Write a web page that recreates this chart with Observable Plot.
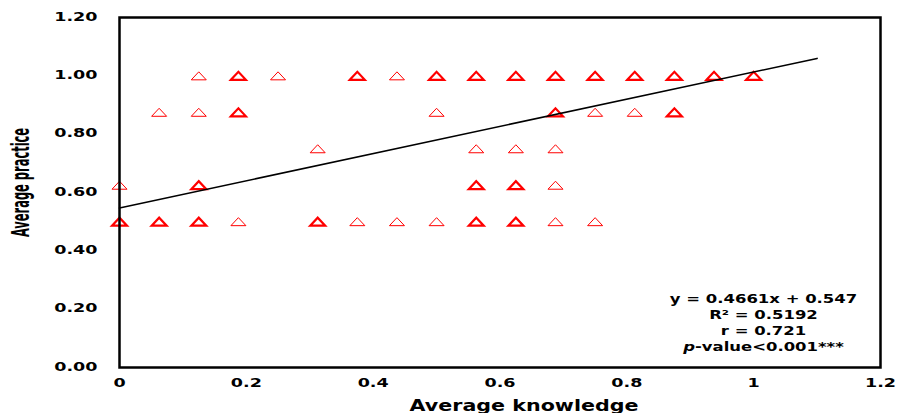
<!DOCTYPE html>
<html>
<head>
<meta charset="utf-8">
<script src="https://cdn.jsdelivr.net/npm/d3@7"></script>
<script src="https://cdn.jsdelivr.net/npm/@observablehq/plot@0.6"></script>
<style>
  html, body { margin: 0; padding: 0; background: #fff; }
</style>
</head>
<body>
<div id="chart"></div>
<script>
// ---- Data ----
const knowledge = [
  // practice = 1.0
  0.125, 0.1875, 0.25, 0.375, 0.4375, 0.5, 0.5625, 0.625, 0.6875, 0.75, 0.8125, 0.875, 0.9375, 1.0,
  // practice = 0.875
  0.0625, 0.125, 0.1875, 0.5, 0.6875, 0.75, 0.8125, 0.875,
  // practice = 0.75
  0.3125, 0.5625, 0.625, 0.6875,
  // practice = 0.625
  0, 0.125, 0.5625, 0.625, 0.6875,
  // practice = 0.5
  0, 0.0625, 0.125, 0.1875, 0.3125, 0.375, 0.4375, 0.5, 0.5625, 0.625, 0.6875, 0.75
];
const practice = [
  1, 1, 1, 1, 1, 1, 1, 1, 1, 1, 1, 1, 1, 1,
  0.875, 0.875, 0.875, 0.875, 0.875, 0.875, 0.875, 0.875,
  0.75, 0.75, 0.75, 0.75,
  0.625, 0.625, 0.625, 0.625, 0.625,
  0.5, 0.5, 0.5, 0.5, 0.5, 0.5, 0.5, 0.5, 0.5, 0.5, 0.5, 0.5
];
// estimated number of overlapping respondents at each point (1 = single, 2 = several)
const count = [
  1, 2, 1, 2, 1, 2, 2, 2, 2, 2, 2, 2, 2, 2,
  1, 1, 2, 1, 2, 1, 1, 2,
  1, 1, 1, 1,
  1, 2, 2, 2, 1,
  2, 2, 2, 1, 2, 1, 1, 1, 2, 2, 1, 1
];

const fitSlope = 0.4661;
const fitIntercept = 0.547;
const fitRange = [0, 1.1];

const xTicks = [0, 0.2, 0.4, 0.6, 0.8, 1, 1.2];
const yTicks = [0, 0.2, 0.4, 0.6, 0.8, 1.0, 1.2];
const xLabel = "Average knowledge";
const yLabel = "Average practice";
const statsLines = ["y = 0.4661x + 0.547", "R\u00B2 = 0.5192", "r = 0.721", "p-value<0.001***"];

// ---- Build tables ----
const points = knowledge.map((k, i) => ({knowledge: k, practice: practice[i], count: count[i]}));
const fitLine = fitRange.map(x => ({x, y: fitSlope * x + fitIntercept}));

// flattened open triangle
const flatTriangle = {
  draw(context) {
    context.moveTo(-7.5, 4);
    context.lineTo(0, -4);
    context.lineTo(7.5, 4);
    context.closePath();
  }
};

const chart = Plot.plot({
  width: 898,
  height: 413,
  marginLeft: 119,
  marginRight: 18,
  marginTop: 17,
  marginBottom: 46,
  x: {domain: [0, 1.2]},
  y: {domain: [0, 1.2]},
  style: {fontFamily: "DejaVu Sans", fontWeight: "bold", fontSize: "13px", color: "#000", background: "#fff"},
  marks: [
    Plot.axisY({ticks: yTicks, tickFormat: d => d.toFixed(2), tickSize: 0, tickPadding: 22, dy: 3, label: null}),
    Plot.axisX({ticks: xTicks, tickFormat: d => String(+d.toFixed(1)), tickSize: 0, tickPadding: 19, label: null}),
    Plot.dot(points, {
      x: "knowledge", y: "practice", symbol: flatTriangle,
      stroke: "#ff0000", fill: "none",
      strokeWidth: d => (d.count > 1 ? 2.2 : 1)
    }),
    Plot.line(fitLine, {x: "x", y: "y", stroke: "#000", strokeWidth: 1.6}),
    Plot.frame({stroke: "#000", strokeWidth: 2.5}),
    Plot.text([xLabel], {text: d => d, frameAnchor: "bottom", dx: 24, dy: 43, fontSize: 15.3, lineAnchor: "middle", textAnchor: "middle", fill: "#000"}),
    Plot.text([yLabel], {text: d => d, frameAnchor: "left", dx: -91, dy: -10, rotate: -90, fontSize: 13, textAnchor: "middle", lineAnchor: "middle", fill: "#000"}),
    Plot.text([statsLines.join("\n")], {
      text: d => d, frameAnchor: "bottom-right", dx: -117, dy: -17,
      lineAnchor: "bottom", textAnchor: "middle", fontSize: 12.2, lineHeight: 1.3, fill: "#000"
    })
  ]
});

document.getElementById("chart").append(chart);

// horizontally stretched lettering, as in the reference
function stretch(el, sx, sy) {
  const x = el.getAttribute("x"), y = el.getAttribute("y");
  let t = el.getAttribute("transform") || "";
  if (x != null || y != null) {
    t += ` translate(${+x || 0},${+y || 0})`;
    el.removeAttribute("x");
    el.removeAttribute("y");
  }
  el.setAttribute("transform", `${t} scale(${sx},${sy})`);
}
d3.select(chart).selectAll("text").each(function () {
  const t = this.getAttribute("transform") || "";
  if (/rotate\(-90\)/.test(t)) stretch(this, 0.88, 1.85);
  else stretch(this, 1.35, 1);
});

// italic "p" in p-value
d3.select(chart).selectAll("tspan").each(function () {
  const s = this.textContent;
  if (s.startsWith("p-value")) {
    this.textContent = "";
    d3.select(this).append("tspan").attr("font-style", "italic").text("p");
    d3.select(this).append("tspan").text(s.slice(1));
  }
});
</script>
</body>
</html>
